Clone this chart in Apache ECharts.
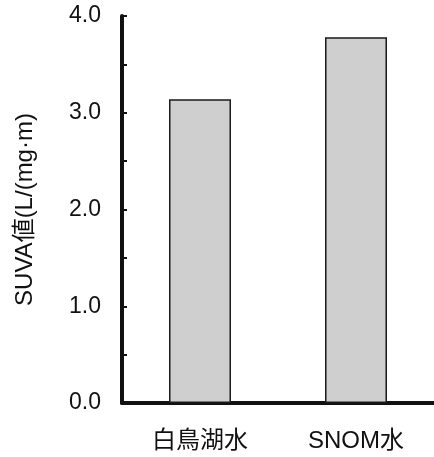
<!DOCTYPE html>
<html>
<head>
<meta charset="utf-8">
<script src="https://cdn.jsdelivr.net/npm/echarts@6/dist/echarts.min.js"></script>
<style>
  html, body { margin: 0; padding: 0; background: #fff; }
  #chart { width: 434px; height: 457px; }
</style>
</head>
<body>
<div id="chart"></div>
<script>
// Sample water sources and their SUVA values
const categories = ['白鳥湖水', 'SNOM水'];
const suvaValues = [3.14, 3.78];
const yTicks = [0, 1, 2, 3, 4];

const fontFamily = '"Liberation Sans", Arial, "Noto Sans CJK JP", sans-serif';

const chart = echarts.init(document.getElementById('chart'));
chart.setOption({
  animation: false,
  grid: { left: 122, right: 0, top: 16, bottom: 54, containLabel: false, outerBoundsMode: 'none' },
  xAxis: {
    type: 'category',
    data: categories,
    axisLine: { lineStyle: { color: '#111', width: 4 } },
    axisTick: { show: false },
    axisLabel: {
      color: '#111',
      fontSize: 24,
      fontFamily: fontFamily,
      margin: 26
    }
  },
  yAxis: {
    type: 'value',
    min: yTicks[0],
    max: yTicks[yTicks.length - 1],
    interval: 1,
    name: 'SUVA値(L/(mg·m)',
    nameLocation: 'middle',
    nameGap: 85,
    nameRotate: 90,
    nameTextStyle: { color: '#111', fontSize: 24, fontFamily: fontFamily },
    axisLine: { show: true, lineStyle: { color: '#111', width: 4 } },
    axisTick: { show: true, inside: true, length: 5, lineStyle: { color: '#111', width: 2 } },
    minorTick: { show: true, splitNumber: 2, length: 5, lineStyle: { color: '#111', width: 2 } },
    splitLine: { show: false },
    axisLabel: {
      color: '#111',
      fontSize: 23,
      fontFamily: fontFamily,
      margin: 21,
      formatter: v => v.toFixed(1)
    }
  },
  series: [{
    type: 'bar',
    data: suvaValues,
    barWidth: 62,
    itemStyle: {
      color: '#cfcfcf',
      borderColor: '#1a1a1a',
      borderWidth: 1.5
    }
  }]
});
</script>
</body>
</html>
